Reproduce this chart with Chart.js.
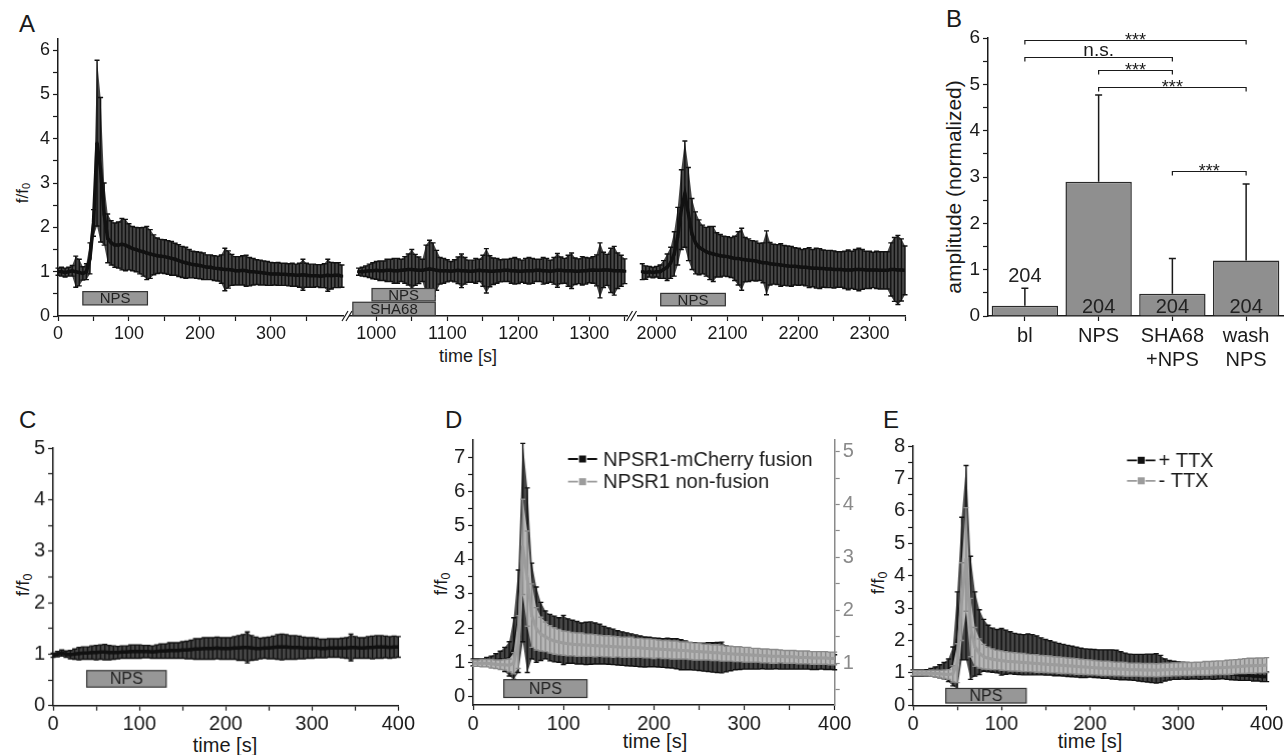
<!DOCTYPE html>
<html>
<head>
<meta charset="utf-8">
<script src="https://cdn.jsdelivr.net/npm/chart.js@4.4.1/dist/chart.umd.min.js"></script>
<style>
html, body { margin: 0; padding: 0; background: #fff; overflow: hidden; }
#fig { position: relative; width: 1287px; height: 755px; font-family: 'Liberation Sans', Arial, Helvetica, sans-serif; color: #1a1a1a; }
.panel { position: absolute; }
.panel canvas { display: block; }
.lbl { position: absolute; line-height: 1; white-space: nowrap; }
.letter { font-size: 24px; }
.ytitle { transform: translate(-50%, -50%) rotate(-90deg); }
.xtitle { transform: translate(-50%, -50%); }
sub { font-size: 0.65em; vertical-align: -0.25em; line-height: 0; }
</style>
</head>
<body>
<div id="fig">
  <div class="lbl letter" style="left:19px;top:12px">A</div>
  <div class="lbl letter" style="left:946px;top:7px">B</div>
  <div class="lbl letter" style="left:19px;top:408px">C</div>
  <div class="lbl letter" style="left:445px;top:408px">D</div>
  <div class="lbl letter" style="left:883px;top:408px">E</div>

  <div class="lbl ytitle" style="left:22px;top:193px;font-size:17px">f/f<sub>0</sub></div>
  <div class="lbl ytitle" style="left:953px;top:187px;font-size:21px">amplitude (normalized)</div>
  <div class="lbl ytitle" style="left:22px;top:585px;font-size:19px">f/f<sub>0</sub></div>
  <div class="lbl ytitle" style="left:440px;top:584px;font-size:19px">f/f<sub>0</sub></div>
  <div class="lbl ytitle" style="left:877px;top:583px;font-size:19px">f/f<sub>0</sub></div>

  <div class="lbl xtitle" style="left:468px;top:356px;font-size:18px">time [s]</div>
  <div class="lbl xtitle" style="left:225px;top:745px;font-size:20px">time [s]</div>
  <div class="lbl xtitle" style="left:655px;top:741px;font-size:20px">time [s]</div>
  <div class="lbl xtitle" style="left:1090px;top:741px;font-size:20px">time [s]</div>
</div>
<script>
// ---- data (one sample every 5 s) ----
const STEP = 5;

// A: three recording windows, same cells
const a1Start = 0;
const a1Mean = [1.00,1.00,0.98,1.00,1.02,1.00,0.98,0.96,1.00,1.30,
  2.10,3.90,3.30,2.30,1.75,1.65,1.60,1.60,1.62,1.60,
  1.56,1.52,1.50,1.47,1.45,1.42,1.40,1.38,1.36,1.35,
  1.34,1.32,1.30,1.28,1.25,1.22,1.20,1.18,1.16,1.15,
  1.14,1.12,1.10,1.10,1.08,1.07,1.06,1.05,1.05,1.04,
  1.02,1.02,1.03,1.02,1.00,1.00,0.99,0.98,0.97,0.96,
  0.95,0.95,0.95,0.94,0.94,0.93,0.93,0.92,0.92,0.93,
  0.92,0.91,0.91,0.91,0.90,0.91,0.92,0.91,0.92,0.92,
  0.90];
const a1Err = [0.08,0.10,0.10,0.10,0.12,0.35,0.30,0.15,0.18,0.35,
  0.30,1.87,1.63,0.70,0.55,0.50,0.50,0.52,0.58,0.58,
  0.52,0.50,0.50,0.52,0.55,0.60,0.55,0.45,0.40,0.38,
  0.38,0.38,0.38,0.36,0.36,0.35,0.35,0.32,0.30,0.30,
  0.30,0.30,0.28,0.28,0.28,0.28,0.32,0.48,0.42,0.35,
  0.32,0.32,0.33,0.35,0.32,0.30,0.28,0.28,0.27,0.27,
  0.26,0.25,0.26,0.25,0.25,0.25,0.26,0.25,0.27,0.35,
  0.27,0.26,0.26,0.25,0.26,0.27,0.36,0.30,0.28,0.28,
  0.25];

const a2Start = 975;
const a2Mean = [1.00,1.00,1.01,1.02,1.02,1.03,1.02,1.02,1.03,1.03,
  1.02,1.02,1.03,1.04,1.05,1.05,1.04,1.03,1.03,1.05,
  1.06,1.05,1.03,1.02,1.02,1.02,1.01,1.02,1.03,1.02,
  1.02,1.01,1.01,1.02,1.03,1.02,1.02,1.01,1.01,1.02,
  1.02,1.03,1.03,1.02,1.02,1.01,1.01,1.02,1.02,1.02,
  1.03,1.03,1.02,1.02,1.01,1.02,1.03,1.03,1.02,1.02,
  1.02,1.01,1.01,1.02,1.02,1.03,1.04,1.03,1.03,1.04,
  1.04,1.03,1.02,1.02,1.02,1.01];
const a2Err = [0.08,0.10,0.12,0.15,0.18,0.20,0.22,0.22,0.25,0.25,
  0.28,0.28,0.25,0.30,0.35,0.45,0.35,0.30,0.25,0.55,
  0.65,0.60,0.45,0.30,0.28,0.25,0.22,0.25,0.30,0.38,
  0.30,0.25,0.25,0.28,0.25,0.35,0.50,0.35,0.30,0.28,
  0.25,0.25,0.25,0.28,0.30,0.28,0.25,0.28,0.30,0.28,
  0.25,0.25,0.30,0.28,0.25,0.30,0.38,0.30,0.28,0.35,
  0.40,0.30,0.28,0.32,0.30,0.28,0.30,0.35,0.62,0.40,
  0.35,0.50,0.55,0.40,0.35,0.28];

const a3Start = 1980;
const a3Mean = [1.00,0.98,1.00,0.98,1.00,1.00,1.05,1.10,1.20,1.40,
  1.80,2.40,2.75,2.30,1.85,1.65,1.55,1.50,1.45,1.42,
  1.40,1.38,1.36,1.35,1.34,1.32,1.30,1.30,1.28,1.27,
  1.26,1.25,1.24,1.22,1.20,1.20,1.18,1.17,1.16,1.15,
  1.14,1.13,1.12,1.12,1.11,1.10,1.10,1.09,1.08,1.08,
  1.07,1.07,1.06,1.06,1.05,1.05,1.05,1.04,1.04,1.04,
  1.05,1.05,1.05,1.04,1.04,1.04,1.04,1.03,1.03,1.03,
  1.05,1.05,1.04,1.04,1.03];
const a3Err = [0.18,0.15,0.12,0.12,0.12,0.15,0.20,0.30,0.35,0.50,
  0.65,0.90,1.20,1.05,0.80,0.70,0.62,0.55,0.55,0.60,
  0.62,0.50,0.48,0.45,0.45,0.45,0.50,0.60,0.70,0.50,
  0.48,0.45,0.45,0.42,0.45,0.72,0.48,0.45,0.45,0.48,
  0.45,0.45,0.45,0.42,0.42,0.40,0.42,0.45,0.42,0.45,
  0.45,0.42,0.42,0.42,0.42,0.40,0.40,0.42,0.45,0.42,
  0.45,0.48,0.45,0.42,0.42,0.40,0.42,0.42,0.42,0.42,
  0.60,0.72,0.78,0.70,0.55];

// application bars (s)
const a1StimLabels = ['NPS'], a1StimFrom = [35], a1StimTo = [126];
const a2StimLabels = ['NPS', 'SHA68'], a2StimFrom = [994, 967], a2StimTo = [1083, 1083];
const a3StimLabels = ['NPS'], a3StimFrom = [2006], a3StimTo = [2097];

// B: amplitudes
const bCats = ['bl', 'NPS', ['SHA68', '+NPS'], ['wash', 'NPS']];
const bMeans = [0.22, 2.90, 0.48, 1.20];
const bErrs = [0.38, 1.87, 0.76, 1.65];
const bN = [204, 204, 204, 204];
const bSigPairs = [[0, 3], [0, 2], [1, 2], [1, 3], [2, 3]];
const bSigLabels = ['***', 'n.s.', '***', '***', '***'];

// C
const cMean = [0.98,1.00,1.02,1.00,0.99,1.00,1.01,1.02,1.02,1.03,
  1.03,1.04,1.04,1.03,1.03,1.03,1.04,1.04,1.05,1.05,
  1.05,1.05,1.05,1.04,1.05,1.06,1.06,1.07,1.07,1.07,
  1.08,1.08,1.09,1.10,1.10,1.11,1.11,1.11,1.12,1.11,
  1.11,1.11,1.12,1.12,1.13,1.13,1.12,1.11,1.11,1.12,
  1.12,1.13,1.14,1.14,1.14,1.13,1.13,1.13,1.12,1.12,
  1.12,1.12,1.11,1.11,1.12,1.12,1.12,1.12,1.12,1.13,
  1.13,1.12,1.12,1.13,1.13,1.14,1.14,1.14,1.13,1.14,
  1.14];
const cErr = [0.04,0.05,0.06,0.06,0.08,0.10,0.12,0.12,0.12,0.13,
  0.14,0.14,0.15,0.14,0.13,0.12,0.12,0.12,0.13,0.13,
  0.13,0.12,0.12,0.12,0.13,0.14,0.14,0.15,0.15,0.15,
  0.16,0.17,0.18,0.20,0.20,0.21,0.21,0.21,0.21,0.21,
  0.21,0.21,0.22,0.24,0.25,0.30,0.24,0.22,0.20,0.20,
  0.21,0.22,0.24,0.25,0.24,0.23,0.23,0.22,0.21,0.20,
  0.20,0.19,0.18,0.18,0.18,0.18,0.18,0.19,0.20,0.26,
  0.21,0.20,0.20,0.21,0.22,0.22,0.22,0.21,0.21,0.21,
  0.20];
const cStimLabels = ['NPS'], cStimFrom = [39], cStimTo = [131];

// D: fusion (left axis) vs non-fusion (right axis)
const dFusionMean = [1.00,1.00,1.00,1.02,1.03,1.05,1.07,1.08,1.10,1.40,
  2.20,4.50,3.40,2.50,2.10,1.90,1.80,1.72,1.68,1.65,
  1.65,1.62,1.60,1.57,1.55,1.55,1.56,1.55,1.53,1.50,
  1.47,1.45,1.42,1.40,1.38,1.36,1.34,1.32,1.30,1.30,
  1.29,1.28,1.27,1.27,1.26,1.25,1.22,1.20,1.18,1.17,
  1.16,1.15,1.15,1.14,1.14,1.14,1.10,1.08,1.08,1.07,
  1.07,1.07,1.06,1.06,1.06,1.05,1.05,1.05,1.04,1.04,
  1.04,1.03,1.03,1.03,1.03,1.02,1.02,1.02,1.01,1.01,
  1.00];
const dFusionErr = [0.10,0.10,0.10,0.12,0.15,0.20,0.25,0.35,0.50,0.90,
  1.50,2.90,2.70,1.40,1.10,0.85,0.70,0.68,0.67,0.65,
  0.72,0.65,0.63,0.62,0.60,0.62,0.62,0.60,0.58,0.55,
  0.53,0.52,0.50,0.49,0.48,0.47,0.46,0.45,0.44,0.43,
  0.42,0.42,0.42,0.43,0.43,0.44,0.44,0.42,0.40,0.40,
  0.40,0.41,0.42,0.43,0.44,0.45,0.38,0.33,0.30,0.28,
  0.27,0.27,0.26,0.26,0.25,0.25,0.25,0.24,0.24,0.24,
  0.24,0.23,0.23,0.23,0.23,0.23,0.23,0.22,0.22,0.22,
  0.22];
const dNonMean = [1.00,1.00,1.00,1.00,0.99,0.98,0.97,0.97,0.96,1.00,
  1.40,3.20,2.60,1.90,1.65,1.55,1.50,1.45,1.42,1.40,
  1.38,1.37,1.36,1.35,1.35,1.34,1.34,1.33,1.33,1.32,
  1.32,1.31,1.31,1.30,1.30,1.30,1.29,1.29,1.28,1.28,
  1.27,1.27,1.26,1.26,1.25,1.25,1.24,1.24,1.23,1.22,
  1.22,1.21,1.21,1.20,1.20,1.19,1.18,1.18,1.17,1.17,
  1.16,1.16,1.15,1.15,1.14,1.14,1.13,1.13,1.13,1.12,
  1.12,1.12,1.11,1.11,1.11,1.10,1.10,1.10,1.10,1.09,
  1.09];
const dNonErr = [0.06,0.06,0.07,0.07,0.08,0.08,0.09,0.10,0.12,0.20,
  0.50,0.90,0.90,0.60,0.40,0.32,0.28,0.26,0.25,0.24,
  0.23,0.23,0.22,0.22,0.22,0.21,0.21,0.21,0.20,0.20,
  0.20,0.20,0.19,0.19,0.19,0.19,0.18,0.18,0.18,0.18,
  0.18,0.17,0.17,0.17,0.17,0.17,0.16,0.16,0.16,0.16,
  0.16,0.15,0.15,0.15,0.15,0.15,0.14,0.14,0.14,0.14,
  0.14,0.14,0.13,0.13,0.13,0.13,0.13,0.13,0.12,0.12,
  0.12,0.12,0.12,0.12,0.12,0.12,0.12,0.12,0.12,0.12,
  0.12];
const dStimLabels = ['NPS'], dStimFrom = [34], dStimTo = [126];

// E: with / without TTX
const eTtxMean = [1.00,1.00,1.00,1.00,1.02,1.03,1.05,1.07,1.08,1.20,
  2.00,3.60,4.40,2.70,2.20,1.95,1.85,1.75,1.70,1.67,
  1.65,1.64,1.62,1.59,1.57,1.56,1.57,1.56,1.54,1.51,
  1.48,1.46,1.43,1.41,1.39,1.37,1.35,1.33,1.31,1.30,
  1.30,1.29,1.28,1.27,1.27,1.26,1.25,1.22,1.20,1.18,
  1.17,1.16,1.15,1.15,1.14,1.14,1.12,1.09,1.08,1.08,
  1.07,1.07,1.06,1.06,1.06,1.05,1.05,1.05,1.04,1.04,
  1.04,1.00,0.97,0.95,0.93,0.92,0.92,0.90,0.90,0.88,
  0.88];
const eTtxErr = [0.10,0.10,0.10,0.10,0.12,0.15,0.20,0.25,0.35,0.60,
  1.50,2.20,3.00,1.90,1.30,1.00,0.80,0.72,0.68,0.67,
  0.72,0.68,0.65,0.63,0.62,0.62,0.63,0.62,0.60,0.57,
  0.55,0.53,0.52,0.50,0.49,0.48,0.47,0.46,0.45,0.44,
  0.43,0.43,0.43,0.44,0.44,0.45,0.45,0.43,0.41,0.40,
  0.40,0.41,0.42,0.43,0.44,0.45,0.42,0.34,0.30,0.28,
  0.27,0.26,0.26,0.25,0.25,0.25,0.24,0.24,0.24,0.23,
  0.22,0.20,0.18,0.17,0.16,0.15,0.15,0.15,0.15,0.15,
  0.15];
const eNoTtxMean = [1.00,1.00,1.00,0.99,0.99,0.98,0.97,0.96,0.95,0.97,
  1.30,3.20,4.50,2.40,1.80,1.60,1.50,1.45,1.42,1.40,
  1.38,1.36,1.35,1.34,1.33,1.32,1.31,1.30,1.29,1.28,
  1.27,1.26,1.25,1.24,1.23,1.22,1.21,1.20,1.19,1.18,
  1.17,1.16,1.15,1.14,1.14,1.13,1.12,1.12,1.11,1.10,
  1.10,1.10,1.09,1.09,1.09,1.08,1.09,1.10,1.10,1.11,
  1.11,1.12,1.12,1.12,1.13,1.13,1.14,1.14,1.15,1.16,
  1.16,1.17,1.18,1.19,1.20,1.21,1.22,1.22,1.23,1.23,
  1.24];
const eNoTtxErr = [0.08,0.08,0.08,0.08,0.09,0.10,0.11,0.13,0.15,0.25,
  0.60,1.20,1.60,0.90,0.60,0.45,0.38,0.34,0.32,0.30,
  0.30,0.29,0.29,0.28,0.28,0.28,0.27,0.27,0.27,0.26,
  0.26,0.26,0.25,0.25,0.25,0.24,0.24,0.24,0.23,0.23,
  0.23,0.22,0.22,0.22,0.22,0.21,0.21,0.21,0.21,0.20,
  0.20,0.20,0.20,0.20,0.20,0.20,0.20,0.20,0.20,0.20,
  0.20,0.20,0.20,0.20,0.20,0.20,0.21,0.21,0.21,0.21,
  0.21,0.22,0.22,0.22,0.22,0.23,0.23,0.23,0.23,0.23,
  0.23];
const eStimLabels = ['NPS'], eStimFrom = [37], eStimTo = [128];

// ---- styling ----
const FONT = "'Liberation Sans', Arial, Helvetica, sans-serif";
const INK = '#1a1a1a';
const GREY = '#9c9c9c';
const AXIS_GREY = '#8a8a8a';
const DARK = { line: '#111111', bar: '#111111', band: '#474747' };
const LIGHT = { line: GREY, bar: '#8a8a8a', band: '#b8b8b8' };

Chart.defaults.font.family = FONT;
Chart.defaults.color = INK;
Chart.defaults.animation = false;
Chart.defaults.events = [];
Chart.defaults.plugins.legend.display = false;
Chart.defaults.plugins.tooltip.enabled = false;

function range(a, b, s) {
    const out = [];
    for (let v = a; v <= b + 1e-9; v += s) out.push(+v.toFixed(3));
    return out;
}

// error bars (and the shaded spread behind them), drawn through the dataset's own scale
function drawErrors(chart, args, onTop) {
    const ds = chart.data.datasets[args.index];
    if (!ds.errors || !!ds.errOnTop !== onTop) return;
    const meta = args.meta;
    const ys = chart.scales[meta.yAxisID];
    const ctx = chart.ctx;
    const cap = ds.cap || 2.5;
    const val = i => (typeof ds.data[i] === 'number' ? ds.data[i] : ds.data[i].y);
    ctx.save();
    if (ds.bandColor) {
        ctx.fillStyle = ds.bandColor;
        ctx.beginPath();
        meta.data.forEach((el, i) => {
            const y = ys.getPixelForValue(val(i) + ds.errors[i]);
            if (i === 0) ctx.moveTo(el.x, y); else ctx.lineTo(el.x, y);
        });
        for (let i = meta.data.length - 1; i >= 0; i--) {
            ctx.lineTo(meta.data[i].x, ys.getPixelForValue(val(i) - ds.errors[i]));
        }
        ctx.closePath();
        ctx.fill();
    }
    ctx.strokeStyle = ds.errColor;
    ctx.lineWidth = ds.errWidth || 1.3;
    ctx.beginPath();
    meta.data.forEach((el, i) => {
        const v = val(i), e = ds.errors[i];
        const yTop = ys.getPixelForValue(v + e);
        const yBot = ys.getPixelForValue(ds.upOnly ? v : v - e);
        ctx.moveTo(el.x, yTop);
        ctx.lineTo(el.x, yBot);
        ctx.moveTo(el.x - cap, yTop);
        ctx.lineTo(el.x + cap, yTop);
        if (!ds.upOnly) {
            ctx.moveTo(el.x - cap, yBot);
            ctx.lineTo(el.x + cap, yBot);
        }
    });
    ctx.stroke();
    ctx.restore();
}

Chart.register({
    id: 'errorBars',
    beforeDatasetDraw(chart, args) { drawErrors(chart, args, false); },
    afterDatasetDraw(chart, args) { drawErrors(chart, args, true); },
});

// grey application boxes ("NPS", "SHA68")
function stimBoxes(labels, from, to, bands, fs) {
    return {
        id: 'stim',
        afterDatasetsDraw(chart) {
            const { ctx } = chart;
            const x = chart.scales.x, y = chart.scales.y;
            ctx.save();
            labels.forEach((lab, i) => {
                const x0 = x.getPixelForValue(from[i]);
                const x1 = x.getPixelForValue(to[i]);
                const y0 = y.getPixelForValue(bands[i][1]);
                const y1 = y.getPixelForValue(bands[i][0]);
                ctx.fillStyle = '#979797';
                ctx.fillRect(x0, y0, x1 - x0, y1 - y0);
                ctx.strokeStyle = '#333';
                ctx.lineWidth = 1.2;
                ctx.strokeRect(x0, y0, x1 - x0, y1 - y0);
                ctx.fillStyle = '#222';
                ctx.font = fs + 'px ' + FONT;
                ctx.textAlign = 'center';
                ctx.textBaseline = 'middle';
                ctx.fillText(lab, (x0 + x1) / 2, (y0 + y1) / 2 + 1);
            });
            ctx.restore();
        },
    };
}

// "//" on the time axis where the recording was cut
function axisBreak(dx) {
    return {
        id: 'axisBreak',
        afterDraw(chart) {
            const { ctx, chartArea } = chart;
            const x = chartArea.left + dx, y = chartArea.bottom;
            ctx.save();
            ctx.strokeStyle = INK;
            ctx.lineWidth = 1.2;
            ctx.beginPath();
            [0, 4].forEach(k => {
                ctx.moveTo(x + k - 3, y + 5);
                ctx.lineTo(x + k + 3, y - 5);
            });
            ctx.stroke();
            ctx.restore();
        },
    };
}

// Origin-style legend: –■– label
function originLegend(px, py, dy, len, gap, fs) {
    return {
        id: 'originLegend',
        afterDraw(chart) {
            const { ctx, chartArea } = chart;
            ctx.save();
            chart.data.datasets.forEach((ds, i) => {
                const x = chartArea.left + px, y = chartArea.top + py + i * dy;
                ctx.strokeStyle = ds.borderColor;
                ctx.lineWidth = 1.8;
                ctx.beginPath();
                ctx.moveTo(x, y); ctx.lineTo(x + 10, y);
                ctx.moveTo(x + len - 10, y); ctx.lineTo(x + len, y);
                ctx.stroke();
                ctx.fillStyle = ds.borderColor;
                ctx.fillRect(x + len / 2 - 3.5, y - 3.5, 7, 7);
                ctx.fillStyle = INK;
                ctx.font = fs + 'px ' + FONT;
                ctx.textAlign = 'left';
                ctx.textBaseline = 'middle';
                ctx.fillText(ds.label, x + len + gap, y + 1);
            });
            ctx.restore();
        },
    };
}

function place(area, pad) {
    const box = document.createElement('div');
    box.className = 'panel';
    box.style.left = (area.l - pad.l) + 'px';
    box.style.top = (area.t - pad.t) + 'px';
    box.style.width = (area.r - area.l + pad.l + pad.r) + 'px';
    box.style.height = (area.b - area.t + pad.t + pad.b) + 'px';
    const cv = document.createElement('canvas');
    box.appendChild(cv);
    document.getElementById('fig').appendChild(box);
    return cv;
}

function yScale(lim, tickVals, fs, width, pos, col, hidden) {
    return {
        type: 'linear',
        position: pos,
        min: lim[0],
        max: lim[1],
        display: !hidden,
        afterBuildTicks: s => { s.ticks = tickVals.map(v => ({ value: v })); },
        afterFit: s => { s.width = hidden ? 0 : width; s.paddingTop = 0; s.paddingBottom = 0; },
        ticks: { autoSkip: false, padding: 3, font: { size: fs }, color: col,
                 callback: v => (Number.isInteger(v) ? String(v) : '') },
        grid: { drawOnChartArea: false, tickLength: 5, color: col, tickWidth: 1.2 },
        border: { color: col, width: 1.5 },
    };
}

function trace(label, t0, means, errs, look, axis, order, width) {
    return {
        label,
        data: means.map((y, i) => ({ x: t0 + i * STEP, y })),
        errors: errs,
        errColor: look.bar,
        bandColor: look.band,
        errWidth: 1.4,
        cap: 2.5,
        borderColor: look.line,
        backgroundColor: look.line,
        borderWidth: width,
        pointStyle: 'rect',
        pointRadius: 2,
        pointBorderWidth: 0,
        pointBackgroundColor: look.line,
        yAxisID: axis,
        order,
        tension: 0,
    };
}

function timeChart(o) {
    const cv = place(o.area, o.pad);
    const scales = {
        x: {
            type: 'linear',
            min: o.x[0],
            max: o.x[1],
            afterBuildTicks: s => { s.ticks = o.xTicks.map(v => ({ value: v })); },
            afterFit: s => { s.height = o.pad.b; s.paddingLeft = 0; s.paddingRight = 0; },
            ticks: { autoSkip: false, maxRotation: 0, padding: 2, font: { size: o.fs }, color: INK,
                     callback: v => (o.xMajor.includes(v) ? String(v) : '') },
            grid: { drawOnChartArea: false, tickLength: 5, color: INK, tickWidth: 1.2 },
            border: { color: INK, width: 1.5 },
        },
        y: yScale(o.y, o.yTicks, o.fs, o.pad.l, 'left', INK, o.hideY),
    };
    if (o.y2) scales.y2 = yScale(o.y2, o.y2Ticks, o.fs, o.pad.r, 'right', AXIS_GREY, false);
    return new Chart(cv, {
        type: 'line',
        data: { datasets: o.datasets },
        options: {
            responsive: true,
            maintainAspectRatio: false,
            layout: { padding: { left: o.hideY ? o.pad.l : 0, top: o.pad.t, right: o.y2 ? 0 : o.pad.r, bottom: 0 } },
            scales,
        },
        plugins: o.plugins || [],
    });
}

// ---- A ----
const aY = [0, 6.25], aYTicks = range(0, 6, 0.5);
timeChart({
    area: { l: 58, t: 39, r: 343.4, b: 316 }, pad: { l: 45, t: 12, r: 4, b: 30 },
    x: [0, 402], xTicks: range(0, 350, 50), xMajor: [0, 100, 200, 300],
    y: aY, yTicks: aYTicks, fs: 18,
    datasets: [trace('A1', a1Start, a1Mean, a1Err, DARK, 'y', 0, 3.5)],
    plugins: [stimBoxes(a1StimLabels, a1StimFrom, a1StimTo, [[0.25, 0.55]], 15)],
});
timeChart({
    area: { l: 350, t: 39, r: 627, b: 316 }, pad: { l: 12, t: 12, r: 4, b: 30 },
    x: [963, 1353], xTicks: range(1000, 1350, 50), xMajor: [1000, 1100, 1200, 1300],
    y: aY, yTicks: aYTicks, fs: 18, hideY: true,
    datasets: [trace('A2', a2Start, a2Mean, a2Err, DARK, 'y', 0, 3.5)],
    plugins: [stimBoxes(a2StimLabels, a2StimFrom, a2StimTo, [[0.34, 0.62], [0.01, 0.31]], 15), axisBreak(-5)],
});
timeChart({
    area: { l: 638, t: 39, r: 905, b: 316 }, pad: { l: 14, t: 12, r: 22, b: 30 },
    x: [1974, 2350], xTicks: range(2000, 2350, 50), xMajor: [2000, 2100, 2200, 2300],
    y: aY, yTicks: aYTicks, fs: 18, hideY: true,
    datasets: [trace('A3', a3Start, a3Mean, a3Err, DARK, 'y', 0, 3.5)],
    plugins: [stimBoxes(a3StimLabels, a3StimFrom, a3StimTo, [[0.23, 0.51]], 15), axisBreak(-8.5)],
});

// ---- B ----
function brackets(pairs, labels, levels) {
    return {
        id: 'brackets',
        afterDraw(chart) {
            const { ctx } = chart;
            const meta = chart.getDatasetMeta(0);
            const ys = chart.scales.y;
            ctx.save();
            ctx.strokeStyle = INK;
            ctx.fillStyle = INK;
            ctx.lineWidth = 1.2;
            ctx.textAlign = 'center';
            ctx.textBaseline = 'alphabetic';
            pairs.forEach((p, k) => {
                const xa = meta.data[p[0]].x, xb = meta.data[p[1]].x;
                const y = Math.round(ys.getPixelForValue(levels[k])) + 0.5;
                ctx.beginPath();
                ctx.moveTo(xa, y + 4); ctx.lineTo(xa, y); ctx.lineTo(xb, y); ctx.lineTo(xb, y + 4);
                ctx.stroke();
                const stars = labels[k] === '***';
                ctx.font = (stars ? 18 : 19) + 'px ' + FONT;
                ctx.fillText(labels[k], (xa + xb) / 2, stars ? y + 5 : y - 2);
            });
            ctx.restore();
        },
    };
}

function countLabels(counts) {
    return {
        id: 'counts',
        afterDraw(chart) {
            const { ctx } = chart;
            const meta = chart.getDatasetMeta(0);
            const ds = chart.data.datasets[0];
            const ys = chart.scales.y;
            const zero = ys.getPixelForValue(0);
            ctx.save();
            ctx.fillStyle = '#222';
            ctx.font = '20px ' + FONT;
            ctx.textAlign = 'center';
            ctx.textBaseline = 'alphabetic';
            meta.data.forEach((bar, i) => {
                const h = zero - ys.getPixelForValue(ds.data[i]);
                const y = h < 16 ? ys.getPixelForValue(ds.data[i] + ds.errors[i]) - 6 : zero - 3;
                ctx.fillText(String(counts[i]), bar.x, y);
            });
            ctx.restore();
        },
    };
}

const areaB = { l: 988, t: 38, r: 1283, b: 316 }, padB = { l: 40, t: 12, r: 4, b: 62 };
new Chart(place(areaB, padB), {
    type: 'bar',
    data: {
        labels: bCats,
        datasets: [{
            data: bMeans, errors: bErrs, upOnly: true, errOnTop: true,
            errColor: INK, errWidth: 1.5, cap: 3.5,
            backgroundColor: '#8f8f8f', borderColor: '#2a2a2a', borderWidth: 1.5,
            barPercentage: 0.9, categoryPercentage: 1,
        }],
    },
    options: {
        responsive: true,
        maintainAspectRatio: false,
        layout: { padding: { left: 0, top: padB.t, right: padB.r, bottom: 0 } },
        scales: {
            x: {
                afterFit: s => { s.height = padB.b; s.paddingLeft = 0; s.paddingRight = 0; },
                ticks: { font: { size: 20 }, padding: 3, maxRotation: 0, autoSkip: false, color: INK },
                grid: { offset: false, drawOnChartArea: false, tickLength: 5, color: INK, tickWidth: 1.2 },
                border: { color: INK, width: 1.5 },
            },
            y: yScale([0, 6], range(0, 6, 0.5), 19, padB.l, 'left', INK, false),
        },
    },
    plugins: [brackets(bSigPairs, bSigLabels, [5.95, 5.58, 5.31, 4.94, 3.14]), countLabels(bN)],
});

// ---- C ----
timeChart({
    area: { l: 53.3, t: 448.3, r: 397.7, b: 705 }, pad: { l: 40, t: 12, r: 24, b: 30 },
    x: [0, 400], xTicks: range(0, 400, 50), xMajor: [0, 100, 200, 300, 400],
    y: [0, 5], yTicks: range(0, 5, 0.5), fs: 20,
    datasets: [trace('C', 0, cMean, cErr, DARK, 'y', 0, 3.5)],
    plugins: [stimBoxes(cStimLabels, cStimFrom, cStimTo, [[0.36, 0.68]], 16)],
});

// ---- D ----
timeChart({
    area: { l: 473.3, t: 440, r: 834, b: 705 }, pad: { l: 38, t: 12, r: 26, b: 30 },
    x: [0, 400], xTicks: range(0, 400, 50), xMajor: [0, 100, 200, 300, 400],
    y: [-0.25, 7.5], yTicks: range(0, 7, 0.5), fs: 20,
    y2: [0.21, 5.22], y2Ticks: range(0.5, 5, 0.5),
    datasets: [
        trace('NPSR1-mCherry fusion', 0, dFusionMean, dFusionErr, DARK, 'y', 1, 3),
        trace('NPSR1 non-fusion', 0, dNonMean, dNonErr, LIGHT, 'y2', 0, 3),
    ],
    plugins: [stimBoxes(dStimLabels, dStimFrom, dStimTo, [[-0.03, 0.49]], 16),
              originLegend(94.7, 19, 22.7, 29, 6, 20)],
});

// ---- E ----
timeChart({
    area: { l: 913.3, t: 445.7, r: 1266, b: 705 }, pad: { l: 40, t: 12, r: 21, b: 30 },
    x: [0, 400], xTicks: range(0, 400, 50), xMajor: [0, 100, 200, 300, 400],
    y: [0, 8], yTicks: range(0, 8, 0.5), fs: 20,
    datasets: [
        trace('+ TTX', 0, eTtxMean, eTtxErr, DARK, 'y', 1, 3),
        trace('- TTX', 0, eNoTtxMean, eNoTtxErr, LIGHT, 'y', 0, 3),
    ],
    plugins: [stimBoxes(eStimLabels, eStimFrom, eStimTo, [[0.07, 0.52]], 16),
              originLegend(213.4, 14.3, 20.5, 28.3, 3, 20)],
});
</script>
</body>
</html>
